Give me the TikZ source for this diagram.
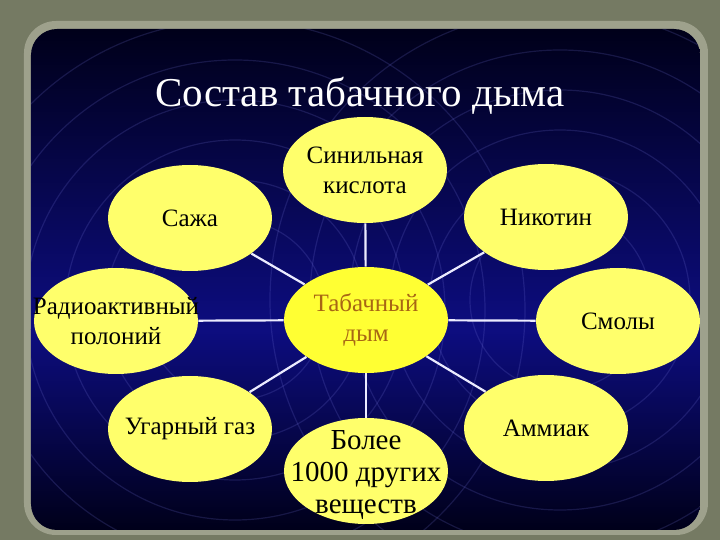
\documentclass[tikz,border=0pt]{standalone}
\usepackage{fontspec}
\setmainfont{Liberation Serif}
\usetikzlibrary{shapes.geometric,positioning}
\definecolor{myolive}{rgb}{.46,.48,.39}
\definecolor{myframe}{rgb}{.62,.63,.55}
\definecolor{mynavy}{rgb}{.05,.05,.50}
\definecolor{mydark}{rgb}{0,0,.10}
\definecolor{myyellow}{rgb}{1,1,.42}
\definecolor{mycenter}{rgb}{1,1,.2}
\definecolor{mybrown}{rgb}{.66,.40,.08}
\definecolor{myring}{rgb}{.45,.45,.85}

\begin{document}
\begin{tikzpicture}[x=0.5pt,y=-0.5pt,
    part/.style={ellipse,fill=myyellow,minimum width=82pt,minimum height=53pt,inner sep=0pt},
    word/.style={align=center,font=\fontsize{12.5}{15}\selectfont,text=black},
    link/.style={draw=white!92!blue,line width=1.1pt},
    ring/.style={draw=myring,opacity=.2,line width=.6pt}]
    \useasboundingbox (0,0) rectangle (720,540);
    \fill[myolive] (0,0) rectangle (720,540); % stone backdrop
    \fill[myframe,rounded corners=16pt] (24,21) rectangle (708,535);

    % dark blue panel, brightest in the middle
    \begin{scope}
      \clip[rounded corners=13pt] (31,29) rectangle (700,530);
      \shade[top color=mydark,bottom color=mynavy] (31,29) rectangle (700,330);
      \shade[top color=mynavy,bottom color=mydark] (31,330) rectangle (700,530);
      \foreach \r in {90,130,...,290}{%
        \draw[ring] (235,310) circle (\r);
        \draw[ring] (560,300) circle (\r);
      }
    \end{scope}

    \node[white,font=\fontsize{20.5}{25}\selectfont] (head) at (360,96) {Состав табачного дыма};

    \node[part,fill=mycenter] (smoke) at (366,320) {};
    \node[part] (acid)     at (365,170) {};
    \node[part] (soot)     at (190,218) {};
    \node[part] (nicotine) at (546,217) {};
    \node[part] (polonium) at (116,321) {};
    \node[part] (tar)      at (618,321) {};
    \node[part] (monoxide) at (190,429) {};
    \node[part] (ammonia)  at (546,428) {};
    \node[part] (others)   at (366,471) {};

    \foreach \n in {acid,soot,nicotine,polonium,tar,monoxide,ammonia,others}{%
      \draw[link] (smoke) -- (\n);
    }

    \node[word,text=mybrown] (smoketext) at (smoke) {Табачный\\дым};
    \node[word] (acidtext)     at (acid)     {Синильная\\кислота};
    \node[word] (soottext)     at (soot)     {Сажа};
    \node[word] (nicotinetext) at (nicotine) {Никотин};
    \node[word] (poloniumtext) at (polonium) {Радиоактивный\\полоний};
    \node[word] (tartext)      at (tar)      {Смолы};
    \node[word] (monoxidetext) at (monoxide) {Угарный газ};
    \node[word] (ammoniatext)  at (ammonia)  {Аммиак};
    \node[word,font=\fontsize{14.5}{16}\selectfont] (otherstext) at ([yshift=-2pt]others) {Более\\1000 других\\веществ};
\end{tikzpicture}
\end{document}
